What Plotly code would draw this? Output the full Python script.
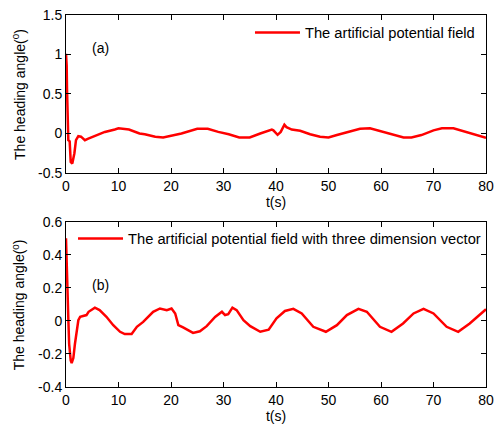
import plotly.graph_objects as go

# ---- data ----
t_a = [0, 0.13, 0.19, 0.32, 0.44, 0.7, 0.9, 1.2, 1.6, 1.9, 2.35, 2.86, 3.6, 4.25, 5.5, 7.4, 9.3,
       10, 12, 14, 15, 17, 18.5, 20, 22, 25, 27, 29, 31, 33, 35, 37, 39.2, 39.5, 40.3, 40.9,
       41.6, 42, 43, 44.6, 46.5, 48.4, 50, 51.6, 54.1, 56, 57.9, 59.8, 62.3, 64.3, 65.8,
       67.7, 70, 71.6, 73.8, 75.7, 78.2, 80]
y_a = [1.01, 0.86, 0.57, 0.21, -0.085, -0.1, -0.36, -0.38, -0.25, -0.085, -0.034, -0.04, -0.085,
       -0.065, -0.03, 0.02, 0.05, 0.065, 0.05, 0.0, -0.01, -0.04, -0.05, -0.03, 0.0, 0.06, 0.06,
       0.02, -0.01, -0.05, -0.05, 0.0, 0.05, 0.04, -0.017, 0.02, 0.11, 0.08, 0.05, 0.035, -0.01,
       -0.04, -0.05, -0.02, 0.03, 0.06, 0.065, 0.03, -0.02, -0.05, -0.05, -0.02, 0.04, 0.065,
       0.065, 0.03, -0.015, -0.055]

t_b = [0, 0.1, 0.25, 0.32, 0.45, 0.6, 0.75, 0.9, 1.08, 1.4, 1.7, 2.0, 2.35, 2.7, 3.9, 4.3, 5.5,
       6.4, 7.7, 9.0, 10.3, 11.2, 12.5, 13.5, 14.7, 16.6, 17.9, 19.2, 20.1, 20.8, 21.4, 22.3,
       24.2, 25.5, 26.8, 28.4, 29.7, 30.3, 30.9, 31.7, 32.5, 33.8, 35.1, 37, 38.6, 40.1, 41.7,
       43.3, 44.9, 47.1, 49.5, 51.6, 53.5, 55.7, 57.3, 59.8, 62, 64.2, 66.2, 68.1, 70, 72.5,
       74.7, 76.9, 80]
y_b = [0.5, 0.37, 0.23, 0.024, 0.005, -0.14, -0.22, -0.24, -0.255, -0.225, -0.14, -0.056, 0.004,
       0.025, 0.035, 0.055, 0.08, 0.065, 0.025, -0.026, -0.066, -0.08, -0.08, -0.036, -0.006,
       0.055, 0.075, 0.065, 0.075, 0.045, -0.026, -0.04, -0.073, -0.063, -0.032, 0.024, 0.055,
       0.035, 0.04, 0.08, 0.065, 0.004, -0.032, -0.066, -0.053, 0.015, 0.06, 0.073, 0.045,
       -0.036, -0.066, -0.026, 0.035, 0.073, 0.055, -0.036, -0.066, -0.016, 0.045, 0.073,
       0.045, -0.036, -0.066, -0.016, 0.07]

x_ticks = [0, 10, 20, 30, 40, 50, 60, 70, 80]
ya_ticks = [-0.5, 0, 0.5, 1, 1.5]
ya_ticktext = ["-0.5", "0", "0.5", "1", "1.5"]
yb_ticks = [-0.4, -0.2, 0, 0.2, 0.4, 0.6]
yb_ticktext = ["-0.4", "-0.2", "0", "0.2", "0.4", "0.6"]

name_a = "The artificial potential field"
name_b = "The artificial potential field with three dimension vector"
ylabel = "The heading angle(<sup>0</sup>)"
xlabel = "t(s)"

FONT = "Liberation Sans, Arial, Helvetica, sans-serif"
RED = "#ff0000"
FS = 14
FL = 14.7

fig = go.Figure()
fig.add_trace(go.Scatter(x=t_a, y=y_a, mode="lines", name=name_a,
                         line=dict(color=RED, width=2.5), xaxis="x", yaxis="y", legend="legend"))
fig.add_trace(go.Scatter(x=t_b, y=y_b, mode="lines", name=name_b,
                         line=dict(color=RED, width=2.5), xaxis="x2", yaxis="y2", legend="legend2"))

axis_common = dict(showline=True, linecolor="black", linewidth=1, mirror="ticks",
                   ticks="inside", ticklen=5, tickcolor="black", showgrid=False,
                   zeroline=False, automargin=False, ticklabeloverflow="allow",
                   tickfont=dict(size=FS, color="black", family=FONT))

fig.update_layout(
    width=495, height=429,
    margin=dict(l=66, r=9, t=15, b=42, autoexpand=False),
    paper_bgcolor="white", plot_bgcolor="white",
    font=dict(family=FONT, size=FS, color="black"),
    xaxis=dict(domain=[0, 1], range=[0, 80], tickvals=x_ticks, anchor="y",
               title=dict(text=xlabel, standoff=1, font=dict(size=FS)), **axis_common),
    yaxis=dict(domain=[0.5753, 1], range=[-0.5, 1.5], tickvals=ya_ticks, ticktext=ya_ticktext,
               anchor="x", **axis_common),
    xaxis2=dict(domain=[0, 1], range=[0, 80], tickvals=x_ticks, anchor="y2",
                title=dict(text=xlabel, standoff=1, font=dict(size=FS)), **axis_common),
    yaxis2=dict(domain=[0, 0.4444], range=[-0.4, 0.6], tickvals=yb_ticks, ticktext=yb_ticktext,
                anchor="x2", **axis_common),
    showlegend=True,
    legend=dict(xref="container", yref="container", x=0.505, y=0.923,
                xanchor="left", yanchor="middle", bgcolor="rgba(0,0,0,0)",
                font=dict(size=FL), borderwidth=0, itemwidth=45),
    legend2=dict(xref="container", yref="container", x=0.1475, y=0.4429,
                 xanchor="left", yanchor="middle", bgcolor="rgba(0,0,0,0)",
                 font=dict(size=FL), borderwidth=0, itemwidth=45),
    annotations=[
        dict(text="(a)", xref="x domain", yref="y domain", x=0.057, y=0.854,
             showarrow=False, font=dict(size=FS)),
        dict(text="(b)", xref="x2 domain", yref="y2 domain", x=0.057, y=0.677,
             showarrow=False, font=dict(size=FS)),
        dict(text=ylabel, xref="x domain", yref="y domain", x=-0.112, y=0.5,
             xanchor="center", yanchor="middle",
             textangle=-90, showarrow=False, font=dict(size=FS)),
        dict(text=ylabel, xref="x2 domain", yref="y2 domain", x=-0.112, y=0.5,
             xanchor="center", yanchor="middle",
             textangle=-90, showarrow=False, font=dict(size=FS)),
    ],
)

# remove the default 8px page margin so the 495x429 figure fills the window exactly
fig.write_html("out.html", config={"displayModeBar": False},
               post_script="document.body.style.margin='0';document.body.style.overflow='hidden';")
